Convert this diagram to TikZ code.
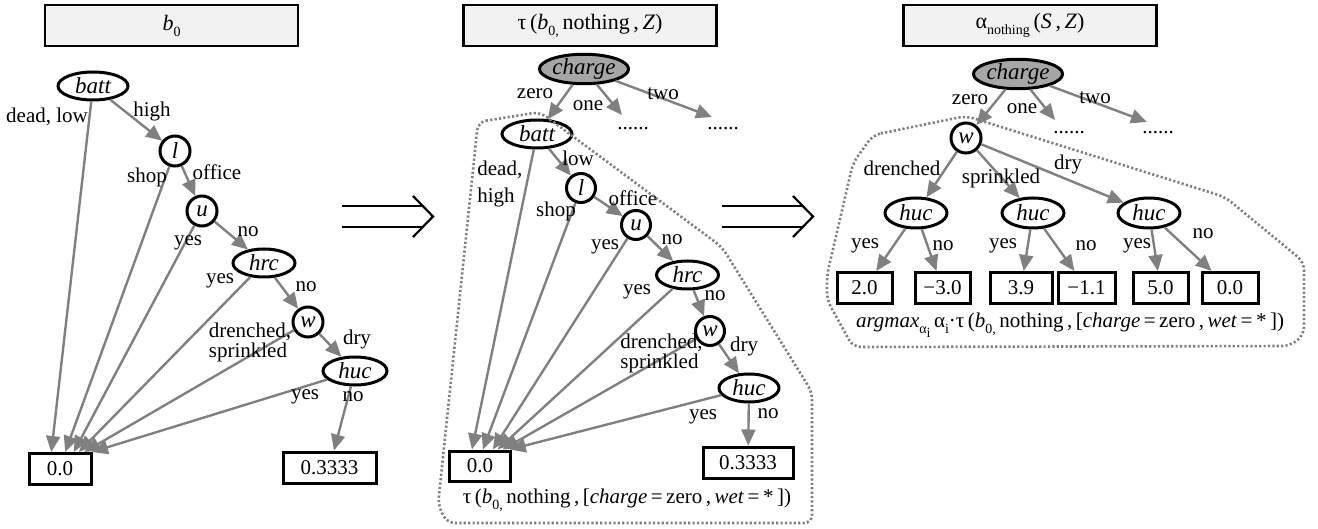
\documentclass[tikz,border=0pt]{standalone}
\usepackage{fontspec}
\setmainfont{Liberation Serif}
\usetikzlibrary{arrows.meta,shapes.geometric}

% small lowered index, as in b_0 or alpha_nothing
\newcommand{\lowsub}[1]{\raisebox{-0.6ex}{\fontsize{7}{7}\selectfont #1}}

\begin{document}
\begin{tikzpicture}[
  x=0.5pt, y=-0.5pt,
  font=\fontsize{10.5}{12}\selectfont,
  title/.style={
    draw,
    fill=black!5,
    line width=1.3pt,
    inner sep=0pt,
    minimum width=126.5pt,
    minimum height=20.5pt,
    font=\fontsize{11}{12}\selectfont
  },
  var/.style={
    draw,
    ellipse,
    line width=1.5pt,
    inner sep=0pt,
    minimum width=31pt,
    minimum height=14pt,
    font=\fontsize{11.5}{12}\selectfont\itshape
  },
  cvar/.style={var, circle, minimum size=15pt},
  obs/.style={var, fill=black!35, minimum width=39pt},
  leaf/.style={draw, line width=1.5pt, inner sep=0pt, minimum width=28pt, minimum height=15.5pt},
  arrow/.style={-{Triangle[length=8pt,width=7pt]}, draw=black!50, line width=1.2pt},
  lab/.style={inner sep=0pt},
  region/.style={draw=black!50, line width=1.3pt, dash pattern=on 1.1pt off 1.1pt, rounded corners=4pt},
  implies/.style={line width=1.1pt}
]
  \useasboundingbox (0,0) rectangle (1318,529);

  % ---- left: b0
  \node[title] (titleA) at (171.5,25.5) {\textit{b}\lowsub{0}};
  \node[var, minimum width=35pt] (battA) at (93,86) {batt};
  \node[cvar] (lA) at (175,151) {l};
  \node[cvar] (uA) at (202,211) {u};
  \node[var] (hrcA) at (264,263) {hrc};
  \node[cvar] (wA) at (308,322) {w};
  \node[var, minimum width=32pt] (hucA) at (355,371) {huc};
  \node[leaf, minimum width=31pt] (zeroA) at (60,469) {0.0};
  \node[leaf, minimum width=46.5pt] (thirdA) at (329.5,467.5) {0.3333};

  \draw[arrow] (battA) -- (lA);
  \draw[arrow] (battA) -- (zeroA.117);
  \draw[arrow] (lA) -- (uA);
  \draw[arrow] (lA) -- (zeroA.73);
  \draw[arrow] (uA) -- (hrcA);
  \draw[arrow] (uA) -- (zeroA.51);
  \draw[arrow] (hrcA) -- (wA);
  \draw[arrow] (hrcA) -- (zeroA.42);
  \draw[arrow] (wA) -- (hucA);
  \draw[arrow] (wA) -- (zeroA.35);
  \draw[arrow] (hucA) -- (thirdA);
  \draw[arrow] (hucA) -- (zeroA.28);

  \node[lab] (deadA) at (47,117) {dead, low};
  \node[lab] (highA) at (152,111) {high};
  \node[lab] (shopA) at (147,177) {shop};
  \node[lab] (officeA) at (217,172) {office};
  \node[lab] (uyesA) at (188,243) {yes};
  \node[lab] (unoA) at (248,232) {no};
  \node[lab] (hyesA) at (220,281) {yes};
  \node[lab] (hnoA) at (306,287) {no};
  \node[lab, align=left] (wetA) at (250,342) {drenched,\\[-2pt]sprinkled};
  \node[lab] (dryA) at (357,339) {dry};
  \node[lab] (cyesA) at (305,397) {yes};
  \node[lab] (cnoA) at (353,397) {no};

  % ---- middle: tau(b0, nothing, Z)
  \node[title] (titleB) at (590,25.5) {τ\,(\textit{b}\lowsub{0,}\,nothing\,,\,\textit{Z})};
  \node[obs] (chargeB) at (584,69) {charge};
  \coordinate (oneB) at (622,115);
  \coordinate (twoB) at (712,117);
  \node[lab] (dotsB1) at (633,129) {......};
  \node[lab] (dotsB2) at (723,129) {......};
  \node[var, minimum width=35pt] (battB) at (537,134) {batt};
  \node[cvar, minimum size=14.5pt] (lB) at (581,188) {l};
  \node[cvar, minimum size=14.5pt] (uB) at (636,225) {u};
  \node[var] (hrcB) at (687.5,275) {hrc};
  \node[cvar, minimum size=14.5pt] (wB) at (710,331) {w};
  \node[var, minimum width=30pt] (hucB) at (749,388) {huc};
  \node[leaf, minimum width=30.5pt, minimum height=15pt] (zeroB) at (480,466) {0.0};
  \node[leaf, minimum width=45pt] (thirdB) at (748,462.5) {0.3333};

  \draw[arrow] (chargeB) -- (battB);
  \draw[arrow] (chargeB) -- (oneB);
  \draw[arrow] (chargeB) -- (twoB);
  \draw[arrow] (battB) -- (lB);
  \draw[arrow] (battB) -- (zeroB.116);
  \draw[arrow] (lB) -- (uB);
  \draw[arrow] (lB) -- (zeroB.80);
  \draw[arrow] (uB) -- (hrcB);
  \draw[arrow] (uB) -- (zeroB.52);
  \draw[arrow] (hrcB) -- (wB);
  \draw[arrow] (hrcB) -- (zeroB.43);
  \draw[arrow] (wB) -- (hucB);
  \draw[arrow] (wB) -- (zeroB.36);
  \draw[arrow] (hucB) -- (thirdB);
  \draw[arrow] (hucB) -- (zeroB.29);

  \node[lab] (zeroLB) at (535,94) {zero};
  \node[lab] (oneLB) at (588,106) {one};
  \node[lab] (twoLB) at (663,94) {two};
  \node[lab, align=left, anchor=west] (deadB) at (477,184) {dead,\\[1.5pt]high};
  \node[lab] (lowB) at (578,158) {low};
  \node[lab] (shopB) at (556,211) {shop};
  \node[lab] (officeB) at (633,198) {office};
  \node[lab] (uyesB) at (605,247) {yes};
  \node[lab] (unoB) at (672,240) {no};
  \node[lab] (hyesB) at (637,292) {yes};
  \node[lab] (hnoB) at (715,296) {no};
  \node[lab, align=left, anchor=west] (wetB) at (620,353) {drenched,\\[-2pt]sprinkled};
  \node[lab] (dryB) at (744,346) {dry};
  \node[lab] (cyesB) at (703,417) {yes};
  \node[lab] (cnoB) at (768,414) {no};
  \node[lab] (tauB) at (627,500) {τ\,(\textit{b}\lowsub{0,}\,nothing\,,\,[\textit{charge}\,=\,zero\,,\,\textit{wet}\,=\,*\,])};

  \draw[region] (478,122) -- (540,112) -- (722,247) -- (812,392) -- (812,523)
    -- (447,523) -- (438,505) -- cycle;

  % ---- right: alpha_nothing(S, Z)
  \node[title] (titleC) at (1030,25.5) {α\lowsub{nothing}\,(\textit{S}\,,\,\textit{Z})};
  \node[obs] (chargeC) at (1018,74) {charge};
  \coordinate (oneC) at (1055,120);
  \coordinate (twoC) at (1147,122);
  \node[lab] (dotsC1) at (1069,133) {......};
  \node[lab] (dotsC2) at (1158,133) {......};
  \node[cvar] (wC) at (966,138) {w};
  \node[var, minimum height=15pt] (hucC1) at (916,213) {huc};
  \node[var, minimum height=15pt] (hucC2) at (1033,213) {huc};
  \node[var, minimum height=15pt] (hucC3) at (1149,213) {huc};
  \node[leaf, minimum width=27.5pt] (v1) at (864.5,288) {2.0};
  \node[leaf, minimum width=27.5pt] (v2) at (942.5,288) {−3.0};
  \node[leaf, minimum width=31pt] (v3) at (1021,288) {3.9};
  \node[leaf, minimum width=28.5pt] (v4) at (1086.5,288) {−1.1};
  \node[leaf, minimum width=27.5pt] (v5) at (1160.5,288) {5.0};
  \node[leaf, minimum width=28pt] (v6) at (1230,288) {0.0};

  \draw[arrow] (chargeC) -- (wC);
  \draw[arrow] (chargeC) -- (oneC);
  \draw[arrow] (chargeC) -- (twoC);
  \draw[arrow] (wC) -- (hucC1);
  \draw[arrow] (wC) -- (hucC2);
  \draw[arrow] (wC) -- (hucC3);
  \draw[arrow] (hucC1) -- (v1);
  \draw[arrow] (hucC1) -- (v2);
  \draw[arrow] (hucC2) -- (v3);
  \draw[arrow] (hucC2) -- (v4);
  \draw[arrow] (hucC3) -- (v5);
  \draw[arrow] (hucC3) -- (v6);

  \node[lab] (zeroLC) at (970,100) {zero};
  \node[lab] (oneLC) at (1022,109) {one};
  \node[lab] (twoLC) at (1095,98) {two};
  \node[lab] (drenchedC) at (902,168) {drenched};
  \node[lab] (sprinkledC) at (1001,178) {sprinkled};
  \node[lab] (dryC) at (1068,164) {dry};
  \node[lab] (yesC1) at (865,246) {yes};
  \node[lab] (noC1) at (943,246) {no};
  \node[lab] (yesC2) at (1003,246) {yes};
  \node[lab] (noC2) at (1086,246) {no};
  \node[lab] (yesC3) at (1137,246) {yes};
  \node[lab] (noC3) at (1203,234) {no};
  \node[lab] (argC) at (1070,325) {\textit{argmax}\lowsub{α\lowsub{i}}\,α\lowsub{i}·τ\,(\textit{b}\lowsub{0,}\,nothing\,,\,[\textit{charge}\,=\,zero\,,\,\textit{wet}\,=\,*\,])};

  \draw[region] (873,135) -- (966,116) -- (1225,197) -- (1304,262) -- (1304,335)
    -- (1290,346) -- (853,347) -- (827,300) -- (827,275) -- (853,163) -- cycle;

  % ---- the two long double arrows between the trees
  \foreach \x in {342,722} {
    \draw[implies] (\x,206) -- ++(81,0) (\x,227) -- ++(81,0);
    \draw[implies] (\x+71,196) -- (\x+91,216.5) -- (\x+71,237);
  }
\end{tikzpicture}
\end{document}
